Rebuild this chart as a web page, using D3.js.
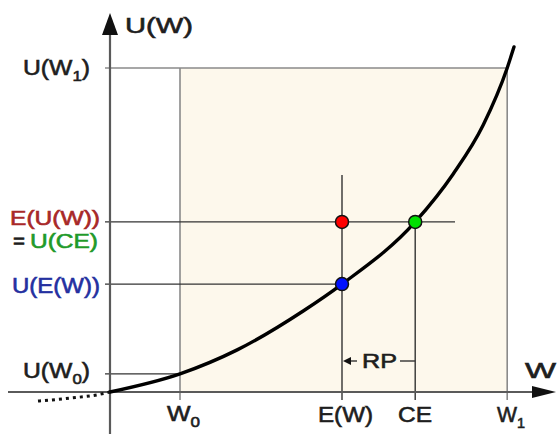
<!DOCTYPE html>
<html>
<head>
<meta charset="utf-8">
<script src="https://cdn.jsdelivr.net/npm/d3@7"></script>
<style>
  html, body { margin: 0; padding: 0; background: #ffffff; }
  svg { display: block; }
  text { font-family: "Liberation Sans", Arial, sans-serif; }
</style>
</head>
<body>
<svg id="chart" width="557" height="434"></svg>
<script>
// ---------- data (arbitrary units) ----------
const wealthLabels = ["W0", "E(W)", "CE", "W1"];
const wealthValues = [1.75, 5.8, 7.63, 9.93];

const utilityLabels = ["U(W0)", "U(E(W))", "E(U(W))", "U(W1)"];
const utilityValues = [0.56, 3.33, 5.25, 10.0];

// utility curve (solid part)
const curveW = [0, 1.75, 3.18, 4.83, 5.8, 7.63, 8.58, 9.33, 9.93, 10.1];
const curveU = [0, 0.56, 1.30, 2.50, 3.33, 5.25, 6.73, 8.24, 10.0, 10.65];

// dotted extension below W = 0
const dottedW = [-1.8, -1.0, -0.25, 0];
const dottedU = [-0.28, -0.19, -0.07, 0];

// highlighted points
const pointW = [5.8, 7.63, 5.8];
const pointU = [5.25, 5.25, 3.33];
const pointColors = ["#ff0000", "#00e000", "#0010ff"];

// ---------- drawing ----------
const svg = d3.select("#chart");
const x = d3.scaleLinear().domain([0, 10]).range([110, 510]);
const y = d3.scaleLinear().domain([0, 10]).range([392, 68]);

const W0 = wealthValues[0], EW = wealthValues[1], CE = wealthValues[2], W1 = wealthValues[3];
const UW0 = utilityValues[0], UEW = utilityValues[1], EU = utilityValues[2], UW1 = utilityValues[3];

// shaded region
svg.append("rect")
  .attr("x", x(W0)).attr("y", y(UW1))
  .attr("width", x(W1) - x(W0)).attr("height", y(0) - y(UW1))
  .attr("fill", "#fdf8ec");

const gl = svg.append("g");
function line(x1, y1, x2, y2, color, w) {
  gl.append("line").attr("x1", x1).attr("y1", y1).attr("x2", x2).attr("y2", y2)
    .attr("stroke", color).attr("stroke-width", w);
}
const light = "#8a8a8a", dark = "#333333";
const tickL = 105, tickB = 400;

// light reference lines
line(tickL, y(UW1), x(W1), y(UW1), light, 1.6);
line(x(W0), y(UW1), x(W0), tickB, light, 1.6);
line(x(W1), y(UW1), x(W1), tickB, light, 1.6);
line(tickL, y(UW0), x(W0), y(UW0), dark, 1.3);

// dark construction lines
line(tickL, y(EU), 455, y(EU), dark, 1.4);
line(tickL, y(UEW), x(EW), y(UEW), dark, 1.4);
line(x(EW), 175, x(EW), tickB, dark, 1.4);
line(x(CE), y(EU), x(CE), tickB, dark, 1.4);

// axes
const axisColor = "#5a5a5a";
line(x(0), 32, x(0), 434, axisColor, 2.2);
line(8, y(0), 536, y(0), axisColor, 2.2);
svg.append("path").attr("d", `M${x(0)},13 L${x(0) - 8},35 L${x(0) + 8},35 Z`).attr("fill", "#111");
svg.append("path").attr("d", `M556,${y(0)} L532,${y(0) - 6} L532,${y(0) + 6} Z`).attr("fill", "#111");

// curve
const lineGen = d3.line().x(d => x(d[0])).y(d => y(d[1])).curve(d3.curveMonotoneX);
svg.append("path")
  .attr("d", lineGen(curveW.map((w, i) => [w, curveU[i]])))
  .attr("fill", "none").attr("stroke", "#000").attr("stroke-width", 3.4).attr("stroke-linecap", "round");
svg.append("path")
  .attr("d", lineGen(dottedW.map((w, i) => [w, dottedU[i]])))
  .attr("fill", "none").attr("stroke", "#111").attr("stroke-width", 3)
  .attr("stroke-dasharray", "3,4");

// points
svg.selectAll("circle.pt").data(pointW).enter().append("circle")
  .attr("class", "pt")
  .attr("cx", d => x(d)).attr("cy", (d, i) => y(pointU[i]))
  .attr("r", 6.5).attr("fill", (d, i) => pointColors[i])
  .attr("stroke", "#111").attr("stroke-width", 1.5);

// RP arrow
line(x(CE), 361, 400, 361, dark, 1.4);
line(x(EW) + 5, 361, 357, 361, dark, 1.4);
svg.append("path").attr("d", `M${x(EW) + 1},361 L${x(EW) + 9},357 L${x(EW) + 9},365 Z`).attr("fill", "#111");

// ---------- labels ----------
function label(xs, base, parts, width, size) {
  const t = svg.append("text").attr("x", xs).attr("y", base)
    .attr("font-size", size || 22)
    .attr("textLength", width).attr("lengthAdjust", "spacingAndGlyphs");
  let shifted = 0;
  parts.forEach(p => {
    const col = p.c || "#1e1e1e";
    const ts = t.append("tspan").text(p.t).attr("fill", col)
      .attr("stroke", col).attr("stroke-width", 0.6);
    if (p.sub && !shifted) { ts.attr("dy", 6).attr("font-size", 15); shifted = 1; }
    else if (p.sub) { ts.attr("font-size", 15); }
    else if (shifted) { ts.attr("dy", -6); shifted = 0; }
  });
  return t;
}
const red = "#a82828", green = "#1f9a2a", blue = "#2430a0";

label(125, 33, [{ t: "U(W)" }], 68);
label(23, 75, [{ t: "U(W" }, { t: "1", sub: 1 }, { t: ")" }], 67);
label(10, 225, [{ t: "E(U(W))", c: red }], 90, 20);
label(13, 248, [{ t: "=", c: "#1e1e1e" }], 12, 20);
label(30, 248, [{ t: "U(CE)", c: green }], 68, 20);
label(12, 293, [{ t: "U(E(W))", c: blue }], 88);
label(23, 378, [{ t: "U(W" }, { t: "0", sub: 1 }, { t: ")" }], 67);

label(167, 421, [{ t: "W" }, { t: "0", sub: 1 }], 33);
label(318, 422, [{ t: "E(W)" }], 55);
label(398, 422, [{ t: "CE" }], 34);
label(497, 422, [{ t: "W" }, { t: "1", sub: 1 }], 28);
label(362, 368, [{ t: "RP" }], 35, 20);
label(525, 378, [{ t: "W" }], 31);
</script>
</body>
</html>
